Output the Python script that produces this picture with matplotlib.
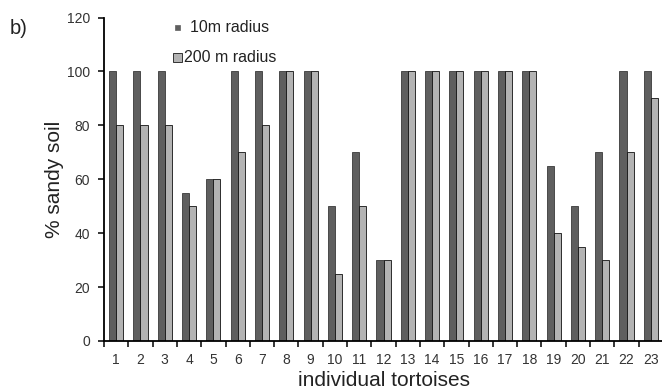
import matplotlib
matplotlib.use("Agg")
import matplotlib.pyplot as plt
import numpy as np
from matplotlib.patches import Rectangle

plt.rcParams['font.family'] = ['Liberation Sans', 'DejaVu Sans']

tortoises = [str(i) for i in range(1, 24)]
radius_10m = [100, 100, 100, 55, 60, 100, 100, 100, 100, 50, 70, 30,
              100, 100, 100, 100, 100, 100, 65, 50, 70, 100, 100]
radius_200m = [80, 80, 80, 50, 60, 70, 80, 100, 100, 25, 50, 30,
               100, 100, 100, 100, 100, 100, 40, 35, 30, 70, 90]

W, H = 662, 392
fig = plt.figure(figsize=(W / 100, H / 100), dpi=100)
ax = fig.add_axes([104 / W, 1 - 341 / H, (663 - 104) / W, (341 - 17.5) / H])

DARK = '#5f5f5f'
LIGHT = '#b3b3b3'
TXT = '#222222'

x = np.arange(1, len(tortoises) + 1)
w = 0.29
ax.bar(x - w/2, radius_10m, width=w, color=DARK, edgecolor='#3a3a3a', linewidth=0.6)
ax.bar(x + w/2, radius_200m, width=w, color=LIGHT, edgecolor='#111111', linewidth=0.6)

ax.set_xlim(0.5, len(tortoises) + 0.5)
ax.set_ylim(0, 120)
ax.set_yticks(range(0, 121, 20))
ax.set_xticks(x)
ax.set_xticklabels(tortoises)
ax.set_xticks(np.arange(0.5, len(tortoises) + 1, 1), minor=True)
ax.tick_params(axis='x', which='major', length=0, labelsize=10, pad=8.5)
ax.tick_params(axis='x', which='minor', length=4, direction='out', width=1.1)
ax.tick_params(axis='y', length=4, direction='out', width=1.1, labelsize=10, pad=6)
ax.tick_params(axis='both', colors='black', labelcolor='#333333')
for s in ['top', 'right']:
    ax.spines[s].set_visible(False)
for s in ['left', 'bottom']:
    ax.spines[s].set_linewidth(1.3)

ax.set_ylabel('% sandy soil', fontsize=15, color=TXT)
ax.yaxis.set_label_coords(-(104 - 54) / (663 - 104), 0.5)
ax.set_xlabel('individual tortoises', fontsize=15, color=TXT)
ax.xaxis.set_label_coords(0.5, -(381 - 341) / (341 - 17.5))
ax.xaxis.label.set_va('center')
ax.yaxis.label.set_va('center')

# legend (drawn in figure pixel coordinates)
def px(xp, yp):
    return xp / W, 1 - yp / H

fig.add_artist(Rectangle(px(174.5, 29.5), 5 / W, 5 / H, transform=fig.transFigure,
                         facecolor=DARK, edgecolor=DARK, linewidth=0.5))
fig.add_artist(Rectangle(px(172.5, 61.5), 9 / W, 9 / H, transform=fig.transFigure,
                         facecolor=LIGHT, edgecolor='#333333', linewidth=0.7))
fig.text(*px(190, 27), '10m radius', fontsize=11.5, color=TXT, va='center', ha='left')
fig.text(*px(184, 57), '200 m radius', fontsize=11.5, color=TXT, va='center', ha='left')

fig.text(*px(10, 28), 'b)', fontsize=14.5, color=TXT, va='center', ha='left')

fig.savefig('out.png', dpi=100)
